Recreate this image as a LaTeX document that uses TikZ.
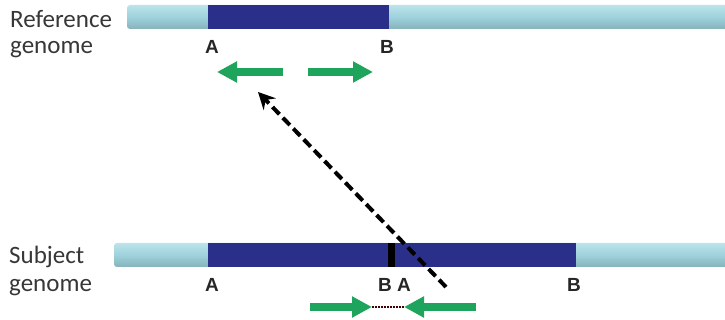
\documentclass[tikz,border=0pt]{standalone}
\usepackage{fontspec}
\setmainfont{Carlito}
\newfontfamily\labfont{Liberation Sans}
\usetikzlibrary{arrows.meta}
\definecolor{seqlight}{RGB}{158,210,220}
\definecolor{seqlighttop}{RGB}{188,228,234}
\definecolor{seqdark}{RGB}{42,48,138}
\definecolor{readgreen}{RGB}{30,164,92}
\definecolor{nametext}{RGB}{55,55,55}
\tikzset{
  genomebar/.style={rounded corners=3pt, top color=seqlighttop, bottom color=seqlight!85!black, middle color=seqlight},
  region/.style={fill=seqdark},
  breakmark/.style={fill=black},
  seqname/.style={font=\fontsize{25}{29}\selectfont, text=nametext, anchor=west, inner sep=0pt},
  endlabel/.style={font=\labfont\bfseries\fontsize{19}{21}\selectfont, text=black!85, inner sep=0pt},
  readarrow/.style={draw=readgreen, line width=8pt, -{Triangle[length=20pt,width=20pt]}},
  jump/.style={line width=4pt, dash pattern=on 10pt off 5pt, -{Stealth[length=17pt,width=17pt,inset=6pt]}},
  junction/.style={line width=1.6pt, dash pattern=on 1.5pt off 1.5pt, draw=black!75!red}
}
\begin{document}
\begin{tikzpicture}[x=1pt,y=-1pt]
  \useasboundingbox (0,0) rectangle (725,320);
  \fill[white] (0,0) rectangle (725,320);

  % reference genome
  \shade[genomebar] (127,5) rectangle (730,29);
  \fill[region] (208,5) rectangle (389,29);
  \node[seqname] (refname) at (10,19) {Reference};
  \node[seqname] (refgen) at (10,50) {genome};
  \node[endlabel] (refA) at (212,47) {A};
  \node[endlabel] (refB) at (387,47) {B};
  \coordinate (rl0) at (283,72);
  \coordinate (rl1) at (217,72);
  \coordinate (rr0) at (308,72);
  \coordinate (rr1) at (373,72);
  \draw[readarrow] (rl0) -- (rl1);
  \draw[readarrow] (rr0) -- (rr1);

  % subject genome
  \shade[genomebar] (114,243) rectangle (730,267);
  \fill[region] (208,243) rectangle (576,267);
  \fill[breakmark] (388,243) rectangle (395,267);
  \node[seqname] (subname) at (9,257) {Subject};
  \node[seqname] (subgen) at (9,288) {genome};
  \node[endlabel] (subA) at (212,285) {A};
  \node[endlabel] (subB) at (385,285) {B};
  \node[endlabel] (subA2) at (404,285) {A};
  \node[endlabel] (subB2) at (574,285) {B};
  \coordinate (sl0) at (310,307);
  \coordinate (sl1) at (372,307);
  \coordinate (sr0) at (476,307);
  \coordinate (sr1) at (404,307);
  \draw[junction] (sl1) -- (sr1);
  \draw[readarrow] (sl0) -- (sl1);
  \draw[readarrow] (sr0) -- (sr1);

  % discordant pair maps back onto the reference
  \coordinate (jfrom) at (446,287);
  \coordinate (jto) at (258,92);
  \draw[jump] (jfrom) -- (jto);
\end{tikzpicture}
\end{document}
